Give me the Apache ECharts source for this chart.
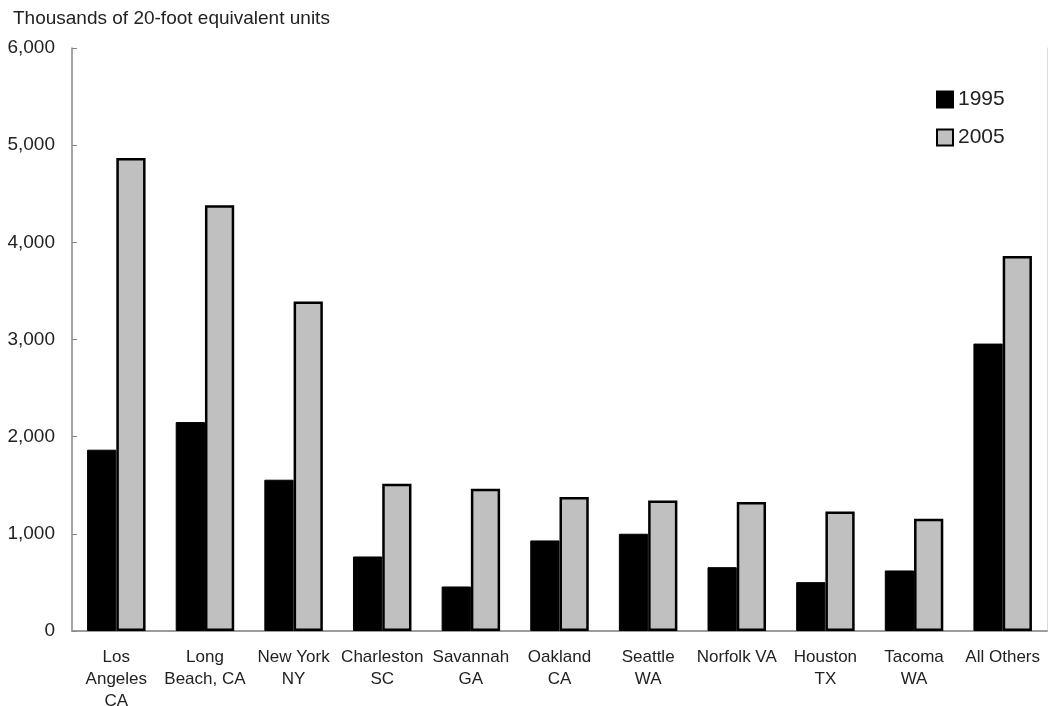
<!DOCTYPE html>
<html>
<head>
<meta charset="utf-8">
<script src="https://cdn.jsdelivr.net/npm/echarts@6/dist/echarts.min.js"></script>
<style>
html,body{margin:0;padding:0;background:#fff;}
#chart{width:1051px;height:706px;}
</style>
</head>
<body>
<div id="chart"></div>
<script>
const categories = ["Los\nAngeles\nCA","Long\nBeach, CA","New York\nNY","Charleston\nSC","Savannah\nGA","Oakland\nCA","Seattle\nWA","Norfolk VA","Houston\nTX","Tacoma\nWA","All Others"];
const values1995 = [1866, 2150, 1557, 767, 458, 932, 1001, 657, 503, 623, 2958];
const values2005 = [4868, 4382, 3390, 1516, 1464, 1378, 1344, 1327, 1231, 1155, 3860];
const yTicks = [0, 1000, 2000, 3000, 4000, 5000, 6000];

const font = '"Liberation Sans", Arial, sans-serif';
const chart = echarts.init(document.getElementById('chart'));
chart.setOption({
  animation: false,
  backgroundColor: '#fff',
  title: {
    text: 'Thousands of 20-foot equivalent units',
    left: 8, top: 4,
    textStyle: {fontFamily: font, fontSize: 19, fontWeight: 'normal', color: '#222'}
  },
  legend: {
    orient: 'vertical',
    left: 931, top: 84,
    icon: 'rect',
    itemWidth: 16, itemHeight: 16, itemGap: 17,
    textStyle: {fontFamily: font, fontSize: 21, color: '#222', padding: [0,0,0,0]},
    data: ['1995', '2005']
  },
  grid: {left: 72, right: 4, top: 48, bottom: 75, outerBoundsMode: 'none', containLabel: false},
  xAxis: [{
    type: 'category',
    data: categories,
    axisLine: {lineStyle: {color: '#888', width: 1.5}},
    axisTick: {show: false},
    axisLabel: {fontFamily: font, fontSize: 17, color: '#222', lineHeight: 22, margin: 15, interval: 0}
  }, {
    type: 'category',
    position: 'top',
    data: categories,
    axisLine: {lineStyle: {color: '#999', width: 1.5}},
    axisTick: {show: false},
    axisLabel: {show: false}
  }],
  yAxis: [{
    type: 'value',
    min: yTicks[0], max: yTicks[yTicks.length - 1], interval: 1000,
    axisLine: {show: true, lineStyle: {color: '#888', width: 1.5}},
    axisTick: {show: true, inside: true, length: 5, lineStyle: {color: '#888'}},
    splitLine: {show: false},
    axisLabel: {fontFamily: font, fontSize: 19, color: '#222', margin: 17,
      formatter: v => v.toLocaleString('en-US')}
  }, {
    type: 'value',
    position: 'right',
    min: yTicks[0], max: yTicks[yTicks.length - 1], interval: 1000,
    axisLine: {show: true, lineStyle: {color: '#ddd', width: 1}},
    axisTick: {show: false},
    axisLabel: {show: false},
    splitLine: {show: false}
  }],
  series: [{
    name: '1995',
    type: 'bar',
    data: values1995,
    barWidth: '33%',
    barGap: '0%',
    itemStyle: {color: '#000', borderColor: '#000', borderWidth: 1}
  }, {
    name: '2005',
    type: 'bar',
    data: values2005,
    barWidth: '33%',
    barGap: '0%',
    itemStyle: {color: '#c0c0c0', borderColor: '#000', borderWidth: 2.5}
  }]
});
</script>
</body>
</html>
